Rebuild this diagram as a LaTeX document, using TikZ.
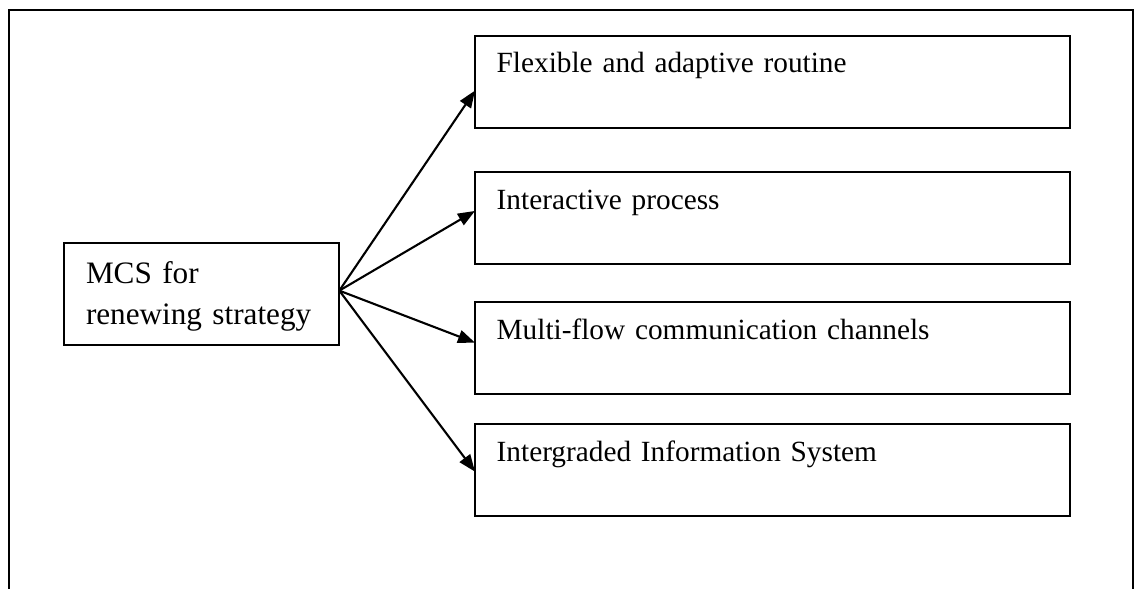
\documentclass[tikz,border=0pt]{standalone}
\usepackage{fontspec}
\setmainfont{Liberation Serif}
\usepackage{tikz}
\usetikzlibrary{positioning, arrows.meta}
\tikzstyle{source} = [rectangle, draw=black, line width=1pt, outer sep=0pt, inner xsep=11pt, inner ysep=0pt, text width=115.65pt, align=left, text height=20.3pt, text depth=30.85pt, font=\fontsize{15.6}{20.5}\selectfont]
\tikzstyle{goal} = [rectangle, draw=black, line width=1pt, outer sep=0pt, inner xsep=10.85pt, inner ysep=0pt, text width=275.65pt, align=left, text height=18.4pt, text depth=27.45pt, font=\fontsize{14.65}{18}\selectfont]
\tikzstyle{link} = [-{Triangle[length=8.5pt,width=6.5pt]}, line width=1.05pt]
\tikzstyle{frame} = [line width=1pt]

\begin{document}
\begin{tikzpicture}[x=0.5pt,y=0.5pt]
		\useasboundingbox (0,0) rectangle (1137,589);
		\draw [frame] (8.7,0) -- (8.7,579) -- (1133,579) -- (1133,0);
		\node (mcs) [source, anchor=north west] at (64,346.3) {MCS for\\renewing strategy};
		\node (flex) [goal, anchor=north west] at (475,553) {Flexible and adaptive routine};
		\node (inter) [goal, below=22.3pt of flex] {Interactive process};
		\node (multi) [goal, below=19.2pt of inter] {Multi-flow communication channels};
		\node (info) [goal, below=15.15pt of multi] {Intergraded Information System};
		\coordinate (hub) at ([yshift=1.6pt]mcs.east);
		\draw [link] (hub) -- ([yshift=-4.4pt]flex.west);
		\draw [link] (hub) -- ([yshift=3.6pt]inter.west);
		\draw [link] (hub) -- ([yshift=2.8pt]multi.west);
		\draw [link] (hub) -- ([yshift=-0.7pt]info.west);
	\end{tikzpicture}
\end{document}
